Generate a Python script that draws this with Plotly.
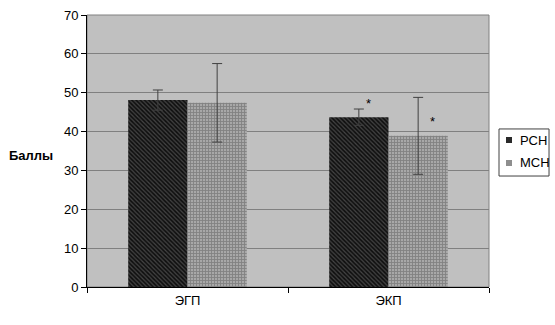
import plotly.graph_objects as go

categories = ["ЭГП", "ЭКП"]
series_names = ["РСН", "МСН"]
rsh_values = [48.1, 43.7]
rsh_err = [2.6, 2.1]
msh_values = [47.4, 38.9]
msh_err = [10.1, 9.9]
star_y = [47.1, 42.7]
y_ticks = [0, 10, 20, 30, 40, 50, 60, 70]

fig = go.Figure()
fig.add_trace(go.Bar(
    name=series_names[0], x=categories, y=rsh_values,
    error_y=dict(type="data", array=rsh_err, color="#404040", thickness=1, width=5),
    marker=dict(color="#000000", line=dict(width=0),
                pattern=dict(shape="\\", fgcolor="#7a7a7a", bgcolor="#101010", size=3, solidity=0.4)),
))
fig.add_trace(go.Bar(
    name=series_names[1], x=categories, y=msh_values,
    error_y=dict(type="data", array=msh_err, color="#404040", thickness=1, width=5),
    marker=dict(color="#808080", line=dict(width=0),
                pattern=dict(shape="+", fgcolor="#5a5a5a", bgcolor="#a8a8a8", size=3, solidity=0.5)),
))

fig.add_annotation(x=categories[1], y=star_y[0], text="*", showarrow=False, xshift=-20,
                   font=dict(size=13, color="black", family="Liberation Sans"))
fig.add_annotation(x=categories[1], y=star_y[1], text="*", showarrow=False, xshift=44,
                   font=dict(size=13, color="black", family="Liberation Sans"))
fig.add_annotation(x=-0.139, y=0.485, xref="paper", yref="paper", text="<b>Баллы</b>",
                   showarrow=False, xanchor="center", yanchor="middle",
                   font=dict(size=13, color="black", family="Liberation Sans"))

# plot frame
fig.add_shape(type="rect", xref="paper", yref="paper", x0=0, y0=0, x1=1, y1=1,
              line=dict(color="#808080", width=1), layer="below")

# manual legend
fig.add_shape(type="rect", xref="paper", yref="paper", x0=1.0249, x1=1.1493, y0=0.408, y1=0.581,
              line=dict(color="#404040", width=1), fillcolor="white")
sw_colors = ["#2a2a2a", "#8e8e8e"]
sw_y = [(0.5294, 0.5515), (0.4449, 0.4669)]
txt_y = [0.5368, 0.4559]
for name, col, (a, b), ty in zip(series_names, sw_colors, sw_y, txt_y):
    fig.add_shape(type="rect", xref="paper", yref="paper", x0=1.0423, x1=1.0572, y0=a, y1=b,
                  line=dict(width=0), fillcolor=col)
    fig.add_annotation(x=1.0721, y=ty, xref="paper", yref="paper", text=name, showarrow=False,
                       xanchor="left", yanchor="middle",
                       font=dict(size=13, color="black", family="Liberation Sans"))

fig.update_layout(
    width=555, height=325,
    margin=dict(l=87, r=66, t=15, b=38, autoexpand=False),
    paper_bgcolor="white", plot_bgcolor="#c0c0c0",
    barmode="group", bargap=0.41, bargroupgap=0,
    font=dict(family="Liberation Sans", size=13, color="black"),
    showlegend=False,
)
fig.update_xaxes(showline=True, linecolor="black", linewidth=1, ticks="outside",
                 tickson="boundaries", ticklen=5, tickcolor="black", showgrid=False,
                 ticklabelstandoff=1)
fig.update_yaxes(range=[0, 70], tickvals=y_ticks, showline=True, linecolor="black",
                 linewidth=1, ticks="outside", ticklen=5, tickcolor="black",
                 showgrid=True, gridcolor="#808080", gridwidth=1, zeroline=False)

fig.write_html("out.html", config={"displayModeBar": False},
               post_script="document.body.style.margin='0';")
